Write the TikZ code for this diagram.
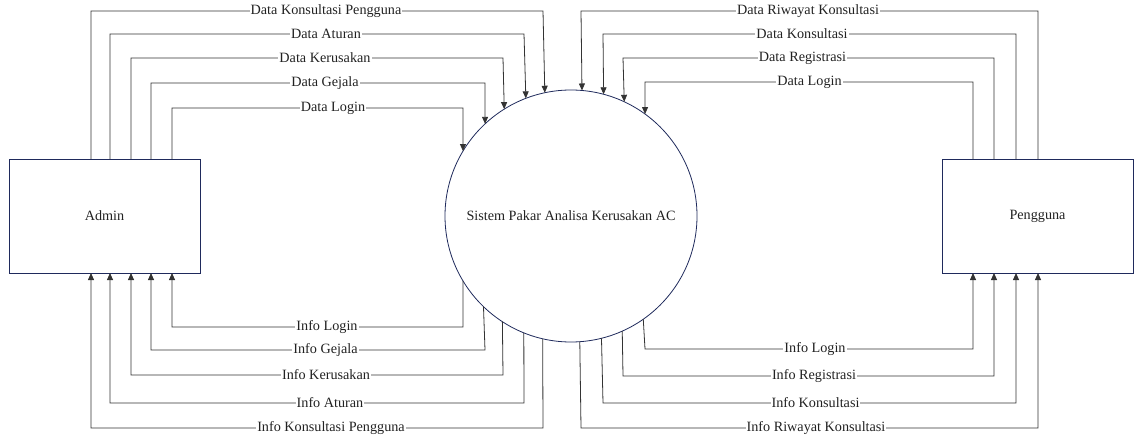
\documentclass[tikz,border=0pt]{standalone}
\usepackage{fontspec}
\setmainfont{Liberation Serif}
\usetikzlibrary{arrows.meta}
\definecolor{edgec}{HTML}{1F2A5C}
\definecolor{flowc}{HTML}{333333}
\definecolor{txtc}{HTML}{222222}
\begin{document}
\begin{tikzpicture}[x=1pt,y=-1pt,
  font=\fontsize{14.2}{17}\selectfont,
  entity/.style={draw=edgec, line width=0.8pt, fill=white, minimum width=191pt,
    minimum height=114pt, inner sep=0pt, outer sep=0pt, text=txtc},
  proc/.style={circle, draw=edgec, line width=0.8pt, minimum size=252pt,
    inner sep=0pt, outer sep=0pt, text=txtc},
  flow/.style={draw=flowc, line width=0.8pt, -{Triangle[length=7pt,width=6pt]}},
  lab/.style={fill=white, inner sep=1pt, text=txtc}]
\useasboundingbox (0,0) rectangle (1134,438);

\node[entity] (admin) at (104.5,216) {Admin};
\node[entity] (user) at (1037.5,216) {Pengguna};
\node[proc] (c) at (571,216) {Sistem Pakar Analisa Kerusakan AC};

% Admin -> system
\draw[flow] (91,0 |- admin.north) -- (91,11) -- (543,11) node[lab] at (326,11) {Data Konsultasi Pengguna} -- (c.102.84);
\draw[flow] (110,0 |- admin.north) -- (110,34) -- (524,34) node[lab] at (326,34) {Data Aturan} -- (c.111.90);
\draw[flow] (131,0 |- admin.north) -- (131,58) -- (503,58) node[lab] at (325,58) {Data Kerusakan} -- (c.122.66);
\draw[flow] (151,0 |- admin.north) -- (151,83) -- (485,83) node[lab] at (325,83) {Data Gejala} -- (c.133.04);
\draw[flow] (172,0 |- admin.north) -- (172,108) -- (463,108) node[lab] at (333,108) {Data Login} -- (c.149.00);

% system -> Admin
\draw[flow] (c.211.00) -- (463,327) -- (172,327) node[lab] at (327,327) {Info Login} -- (172,0 |- admin.south);
\draw[flow] (c.226.96) -- (485,350) -- (151,350) node[lab] at (325.5,350) {Info Gejala} -- (151,0 |- admin.south);
\draw[flow] (c.237.34) -- (503,375) -- (131,375) node[lab] at (326,375) {Info Kerusakan} -- (131,0 |- admin.south);
\draw[flow] (c.248.10) -- (524,403) -- (110,403) node[lab] at (330,403) {Info Aturan} -- (110,0 |- admin.south);
\draw[flow] (c.257.16) -- (543,428) -- (91,428) node[lab] at (331,428) {Info Konsultasi Pengguna} -- (91,0 |- admin.south);

% Pengguna -> system
\draw[flow] (1038,0 |- user.north) -- (1038,11) -- (581,11) node[lab] at (808,11) {Data Riwayat Konsultasi} -- (c.85.45);
\draw[flow] (1016,0 |- user.north) -- (1016,34) -- (603,34) node[lab] at (802,34) {Data Konsultasi} -- (c.75.29);
\draw[flow] (994,0 |- user.north) -- (994,58) -- (623,58) node[lab] at (802.5,58) {Data Registrasi} -- (c.65.62);
\draw[flow] (973,0 |- user.north) -- (973,82) -- (645,82) node[lab] at (809.5,82) {Data Login} -- (c.54.03);

% system -> Pengguna
\draw[flow] (c.305.97) -- (645,349) -- (973,349) node[lab] at (815,349) {Info Login} -- (973,0 |- user.south);
\draw[flow] (c.294.38) -- (623,376) -- (994,376) node[lab] at (814,376) {Info Registrasi} -- (994,0 |- user.south);
\draw[flow] (c.284.71) -- (603,403) -- (1016,403) node[lab] at (815.5,403) {Info Konsultasi} -- (1016,0 |- user.south);
\draw[flow] (c.274.55) -- (581,428) -- (1038,428) node[lab] at (816,428) {Info Riwayat Konsultasi} -- (1038,0 |- user.south);
\end{tikzpicture}
\end{document}
